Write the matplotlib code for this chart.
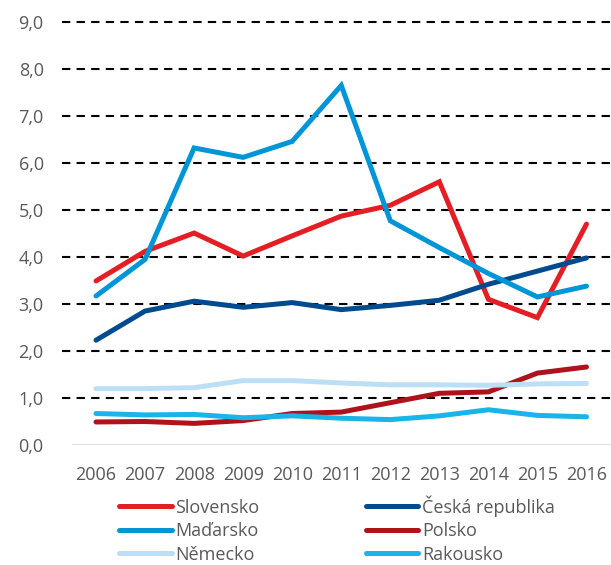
import matplotlib
matplotlib.use('Agg')
import matplotlib.pyplot as plt

years = [2006, 2007, 2008, 2009, 2010, 2011, 2012, 2013, 2014, 2015, 2016]

slovensko = [3.49, 4.12, 4.51, 4.02, 4.45, 4.87, 5.10, 5.60, 3.10, 2.71, 4.70]
ceska = [2.23, 2.85, 3.06, 2.93, 3.03, 2.88, 2.97, 3.08, 3.42, 3.70, 3.98]
madarsko = [3.17, 3.95, 6.32, 6.12, 6.46, 7.65, 4.77, 4.20, 3.65, 3.15, 3.38]
polsko = [0.49, 0.50, 0.46, 0.52, 0.67, 0.70, 0.90, 1.10, 1.13, 1.53, 1.66]
nemecko = [1.20, 1.20, 1.22, 1.37, 1.37, 1.32, 1.28, 1.28, 1.27, 1.30, 1.31]
rakousko = [0.67, 0.64, 0.65, 0.58, 0.62, 0.57, 0.54, 0.62, 0.75, 0.63, 0.60]

y_ticks = [0, 1, 2, 3, 4, 5, 6, 7, 8, 9]

plt.rcParams['font.family'] = ['Open Sans', 'DejaVu Sans']
text_col = '#595959'
fs = 13

fig = plt.figure(figsize=(6.11, 5.65), dpi=100)
ax = fig.add_axes([71.5 / 611, 1 - 445 / 565, 1 - 71.5 / 611, (445 - 22) / 565])

# mřížka
for v in y_ticks[1:]:
    ax.axhline(v, xmin=-0.0176, color='black', lw=1.5, dashes=(4, 3),
               zorder=1, clip_on=False)
ax.axhline(0, color='#D9D9D9', lw=2, zorder=1)

series = [
    ('Slovensko', slovensko, '#E31E24'),
    ('Česká republika', ceska, '#004B8D'),
    ('Maďarsko', madarsko, '#0095D6'),
    ('Polsko', polsko, '#B0121B'),
    ('Německo', nemecko, '#BDDFF5'),
    ('Rakousko', rakousko, '#1AB4E8'),
]
handles = {}
for name, vals, col in series:
    h, = ax.plot(years, vals, color=col, lw=3.6, label=name, zorder=3,
                 solid_capstyle='round', solid_joinstyle='miter')
    handles[name] = h

ax.set_xlim(2005.5, 2016.5)
ax.set_ylim(0, 9)
ax.set_xticks(years)
ax.set_yticks(y_ticks)
ax.set_yticklabels([f'{v:.1f}'.replace('.', ',') for v in y_ticks])
ax.tick_params(axis='both', length=0, labelsize=fs, colors=text_col)
ax.tick_params(axis='x', pad=15)
ax.tick_params(axis='y', pad=20)
for s in ax.spines.values():
    s.set_visible(False)

order = ['Slovensko', 'Maďarsko', 'Německo', 'Česká republika', 'Polsko', 'Rakousko']
leg = fig.legend([handles[n] for n in order], order, ncol=2, loc='upper left',
                 bbox_to_anchor=(112 / 611, 1 - 488 / 565), frameon=False,
                 fontsize=fs, handlelength=2.9, handletextpad=0.2,
                 columnspacing=5.9, labelspacing=0.3, borderaxespad=0)
for t in leg.get_texts():
    t.set_color(text_col)

fig.savefig('out.png', dpi=100)
